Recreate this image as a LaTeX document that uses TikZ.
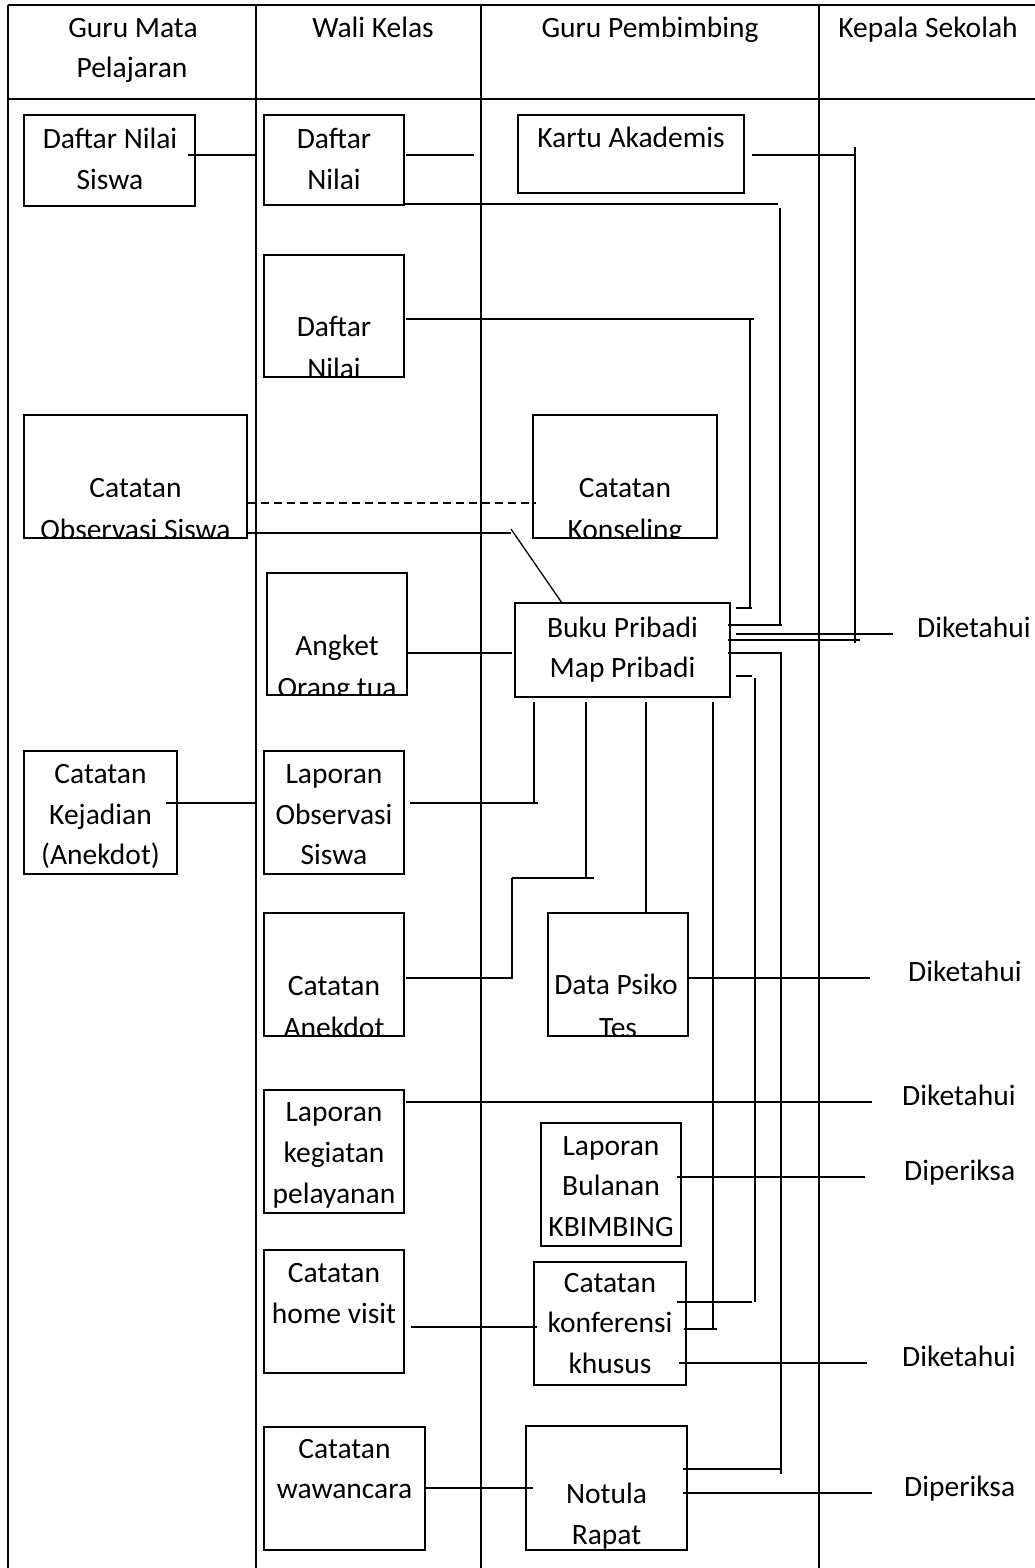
\documentclass[tikz,border=0pt]{standalone}
\usepackage{fontspec}
\usetikzlibrary{calc}
\setmainfont{Carlito}
\newcommand\mkbox[5]{\node[bx, minimum width={#4-#2}, minimum height={#5-#3}] (#1) at ({(#2+#4)/2},{(#3+#5)/2}) {};}
\newcommand\tx[4]{\node[txt] (#1) at (#2,#3) {#4};}
\begin{document}
\begin{tikzpicture}[x=1pt,y=-1pt,
  bx/.style={draw, line width=1.8pt, inner sep=0pt, outer sep=0pt},
  txt/.style={anchor=base, inner sep=0pt, font=\fontsize{29.5}{41}\selectfont},
  lbl/.style={anchor=base west, inner sep=0pt, font=\fontsize{29.5}{41}\selectfont},
  ln/.style={line width=1.8pt},
  tbl/.style={line width=1.5pt},
  dsh/.style={line width=1.6pt, dash pattern=on 8pt off 5pt}]
\useasboundingbox (0,0) rectangle (1035,1568);
% ---------- table grid ----------
\draw[tbl] (8,5) -- (1035,5);
\draw[tbl] (8,99) -- (1035,99);
\foreach \cx in {8,256,481,819} {\draw[tbl] (\cx,5) -- (\cx,1568);}
% ---------- header ----------
\tx{h1a}{133}{38}{Guru Mata}
\tx{h1b}{132}{78}{Pelajaran}
\tx{h2}{373}{38}{Wali Kelas}
\tx{h3}{650}{38}{Guru Pembimbing}
\tx{h4}{928}{38}{Kepala Sekolah}
% ---------- box texts ----------
\tx{t1a}{110}{148}{Daftar Nilai}
\tx{t1b}{110}{189}{Siswa}
\tx{t2a}{334}{148}{Daftar}
\tx{t2b}{334}{189}{Nilai}
\tx{t3}{631}{147}{Kartu Akademis}
\begin{scope}\clip (265,256) rectangle (403,376);
\tx{t4a}{334}{336}{Daftar}
\tx{t4b}{334}{378}{Nilai}
\end{scope}
\begin{scope}\clip (25,416) rectangle (246,537);
\tx{t5a}{135.5}{497}{Catatan}
\tx{t5b}{135.5}{539}{Observasi Siswa}
\end{scope}
\begin{scope}\clip (534,416) rectangle (716,537);
\tx{t6a}{625}{497}{Catatan}
\tx{t6b}{625}{539}{Konseling}
\end{scope}
\begin{scope}\clip (268,574) rectangle (406,694);
\tx{t7a}{337}{655}{Angket}
\tx{t7b}{337}{697}{Orang tua}
\end{scope}
\tx{t8a}{622.5}{637}{Buku Pribadi}
\tx{t8b}{622.5}{677}{Map Pribadi}
\tx{t9a}{100.5}{783}{Catatan}
\tx{t9b}{100.5}{824}{Kejadian}
\tx{t9c}{100.5}{864}{(Anekdot)}
\tx{t10a}{334}{783}{Laporan}
\tx{t10b}{334}{824}{Observasi}
\tx{t10c}{334}{864}{Siswa}
\begin{scope}\clip (265,914) rectangle (403,1035);
\tx{t11a}{334}{995}{Catatan}
\tx{t11b}{334}{1037}{Anekdot}
\end{scope}
\begin{scope}\clip (549,914) rectangle (687,1035);
\tx{t12a}{616}{994}{Data Psiko}
\tx{t12b}{618}{1037}{Tes}
\end{scope}
\tx{t13a}{334}{1121}{Laporan}
\tx{t13b}{334}{1162}{kegiatan}
\tx{t13c}{334}{1203}{pelayanan}
\tx{t14a}{611}{1155}{Laporan}
\tx{t14b}{611}{1195}{Bulanan}
\tx{t14c}{611}{1236}{KBIMBING}
\tx{t15a}{334}{1282}{Catatan}
\tx{t15b}{334}{1323}{home visit}
\tx{t16a}{610}{1292}{Catatan}
\tx{t16b}{610}{1332}{konferensi}
\tx{t16c}{610}{1373}{khusus}
\tx{t17a}{344.5}{1458}{Catatan}
\tx{t17b}{344.5}{1498}{wawancara}
\begin{scope}\clip (527,1427) rectangle (686,1549);
\tx{t18a}{606.5}{1503}{Notula}
\tx{t18b}{606.5}{1544}{Rapat}
\end{scope}
% ---------- right labels ----------
\node[lbl] (r1) at (917,637) {Diketahui};
\node[lbl] (r2) at (908,981) {Diketahui};
\node[lbl] (r3) at (902,1105) {Diketahui};
\node[lbl] (r4) at (904,1180) {Diperiksa};
\node[lbl] (r5) at (902,1366) {Diketahui};
\node[lbl] (r6) at (904,1496) {Diperiksa};
% ---------- boxes ----------
\mkbox{b1}{24}{115}{195}{206}
\mkbox{b2}{264}{115}{404}{205}
\mkbox{b3}{518}{115}{744}{193}
\mkbox{b4}{264}{255}{404}{377}
\mkbox{b5}{24}{415}{247}{538}
\mkbox{b6}{533}{415}{717}{538}
\mkbox{b7}{267}{573}{407}{695}
\mkbox{b8}{515}{603}{730}{697}
\mkbox{b9}{24}{751}{177}{874}
\mkbox{b10}{264}{751}{404}{874}
\mkbox{b11}{264}{913}{404}{1036}
\mkbox{b12}{548}{913}{688}{1036}
\mkbox{b13}{264}{1090}{404}{1213}
\mkbox{b14}{541}{1123}{681}{1246}
\mkbox{b15}{264}{1250}{404}{1373}
\mkbox{b16}{534}{1262}{686}{1385}
\mkbox{b17}{264}{1427}{425}{1550}
\mkbox{b18}{526}{1426}{687}{1550}
% ---------- connector coordinates ----------
\coordinate (c1a) at (188,155);  \coordinate (c1b) at (256,155);
\coordinate (c2a) at (406,155);  \coordinate (c2b) at (474,155);
\coordinate (c3a) at (404,204);  \coordinate (c3b) at (778,204);
\coordinate (c3c) at (780,208);  \coordinate (c3d) at (780,626);
\coordinate (c3e) at (728,625);  \coordinate (c3f) at (782,625);
\coordinate (c4a) at (752,155);  \coordinate (c4b) at (855,155);
\coordinate (c4c) at (855,147);  \coordinate (c4d) at (855,643);
\coordinate (c4e) at (728,640);  \coordinate (c4f) at (860,640);
\coordinate (c5a) at (406,319);  \coordinate (c5b) at (754,319);
\coordinate (c5c) at (750,319);  \coordinate (c5d) at (750,608);
\coordinate (c5e) at (736,608);  \coordinate (c5f) at (752,608);
\coordinate (c6a) at (248,503);  \coordinate (c6b) at (536,503);
\coordinate (c7a) at (248,533);  \coordinate (c7b) at (511,533);
\coordinate (c7c) at (511,529);
\coordinate (c8a) at (406,653);  \coordinate (c8b) at (512,653);
\coordinate (c9a) at (736,634);  \coordinate (c9b) at (893,634);
\coordinate (c10a) at (728,653); \coordinate (c10b) at (782,653);
\coordinate (c10c) at (781,653); \coordinate (c10d) at (781,1474);
\coordinate (c10e) at (683,1469);\coordinate (c10f) at (782,1469);
\coordinate (c11a) at (736,676); \coordinate (c11b) at (752,676);
\coordinate (c11c) at (755,678); \coordinate (c11d) at (755,1302);
\coordinate (c11e) at (677,1302);\coordinate (c11f) at (752,1302);
\coordinate (c12a) at (534,702); \coordinate (c12b) at (534,803);
\coordinate (c12c) at (410,803); \coordinate (c12d) at (538,803);
\coordinate (c13a) at (586,702); \coordinate (c13b) at (586,878);
\coordinate (c13c) at (512,878); \coordinate (c13d) at (594,878);
\coordinate (c13e) at (512,978); \coordinate (c13f) at (406,978);
\coordinate (c14a) at (646,702);
\coordinate (c15a) at (713,702); \coordinate (c15b) at (713,1329);
\coordinate (c15c) at (684,1329);\coordinate (c15d) at (717,1329);
\coordinate (c16a) at (687,978); \coordinate (c16b) at (870,978);
\coordinate (c17a) at (406,1102);\coordinate (c17b) at (872,1102);
\coordinate (c18a) at (677,1177);\coordinate (c18b) at (865,1177);
\coordinate (c19a) at (411,1327);\coordinate (c19b) at (537,1327);
\coordinate (c20a) at (679,1363);\coordinate (c20b) at (867,1363);
\coordinate (c21a) at (166,803); \coordinate (c21b) at (255,803);
\coordinate (c22a) at (426,1488);\coordinate (c22b) at (533,1488);
\coordinate (c23a) at (683,1493);\coordinate (c23b) at (872,1493);
% ---------- connectors ----------
\draw[ln] (c1a) -- (c1b);
\draw[ln] (c2a) -- (c2b);
\draw[ln] (c3a) -- (c3b);
\draw[ln] (c3c) -- (c3d);
\draw[ln] (c3e) -- (c3f);
\draw[ln] (c4a) -- (c4b);
\draw[ln] (c4c) -- (c4d);
\draw[ln] (c4e) -- (c4f);
\draw[ln] (c5a) -- (c5b);
\draw[ln] (c5c) -- (c5d);
\draw[ln] (c5e) -- (c5f);
\draw[dsh] (c6a) -- (c6b);
\draw[ln] (c7a) -- (c7b);
\draw[line width=1.3pt] (c7c) -- ($(b8.north west)+(47,0)$);
\draw[ln] (c8a) -- (c8b);
\draw[ln] (c9a) -- (c9b);
\draw[ln] (c10a) -- (c10b);
\draw[ln] (c10c) -- (c10d);
\draw[ln] (c10e) -- (c10f);
\draw[ln] (c11a) -- (c11b);
\draw[ln] (c11c) -- (c11d);
\draw[ln] (c11e) -- (c11f);
\draw[ln] (c12a) -- (c12b);
\draw[ln] (c12c) -- (c12d);
\draw[ln] (c13a) -- (c13b);
\draw[ln] (c13c) -- (c13d);
\draw[ln] (c13c) -- (c13e) -- (c13f);
\draw[ln] (c14a) -- (c14a |- b12.north);
\draw[ln] (c15a) -- (c15b);
\draw[ln] (c15c) -- (c15d);
\draw[ln] (c16a) -- (c16b);
\draw[ln] (c17a) -- (c17b);
\draw[ln] (c18a) -- (c18b);
\draw[ln] (c19a) -- (c19b);
\draw[ln] (c20a) -- (c20b);
\draw[ln] (c21a) -- (c21b);
\draw[ln] (c22a) -- (c22b);
\draw[ln] (c23a) -- (c23b);
\end{tikzpicture}
\end{document}
